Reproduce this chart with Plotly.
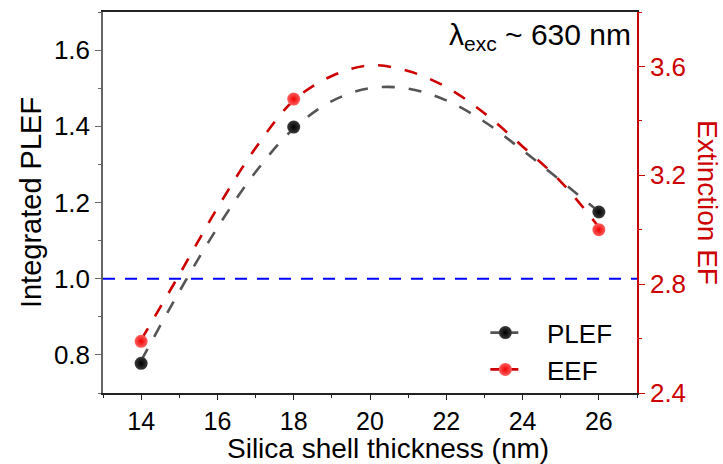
import plotly.graph_objects as go

# Measured enhancement factors vs. silica shell thickness
thickness = [14, 18, 26]
plef = [0.778, 1.398, 1.175]   # integrated PL enhancement factor (left axis)
eef = [2.59, 3.48, 3.00]       # extinction enhancement factor (right axis)

# Smoothed guide curves through the data
fit_x = [14, 15, 16, 17, 18, 19, 20, 21, 22, 23, 24, 25, 26]
plef_fit = [0.785, 0.966, 1.134, 1.280, 1.394, 1.466, 1.500, 1.499, 1.468, 1.412, 1.337, 1.257, 1.176]
eef_fit = [2.595, 2.835, 3.080, 3.300, 3.475, 3.565, 3.604, 3.583, 3.524, 3.428, 3.306, 3.177, 3.010]

reference_level = 1.0

FONT = "Liberation Sans, Arial, sans-serif"
RED = "#cc0000"
GRAY = "#555555"

fig = go.Figure()

# guide curves
fig.add_trace(go.Scatter(x=fit_x, y=plef_fit, mode="lines", showlegend=False,
                         line=dict(color=GRAY, width=2.6, dash="13px,14px", shape="spline", smoothing=1)))
fig.add_trace(go.Scatter(x=fit_x, y=eef_fit, mode="lines", showlegend=False, yaxis="y2",
                         line=dict(color=RED, width=2.6, dash="13px,14px", shape="spline", smoothing=1)))

black_ball = dict(size=13, color="#3a3a3a", gradient=dict(type="radial", color="#000000"),
                  line=dict(width=0))
red_ball = dict(size=13, color="#ff6060", gradient=dict(type="radial", color="#f00000"),
                line=dict(width=0))

# data points
fig.add_trace(go.Scatter(x=thickness, y=plef, mode="markers", marker=black_ball, showlegend=False))
fig.add_trace(go.Scatter(x=thickness, y=eef, mode="markers", marker=red_ball, showlegend=False,
                         yaxis="y2"))

# legend entries
fig.add_trace(go.Scatter(x=[None], y=[None], mode="lines+markers", name="\u00a0\u00a0\u00a0PLEF",
                         line=dict(color=GRAY, width=2.6, dash="10px,8px"), marker=black_ball))
fig.add_trace(go.Scatter(x=[None], y=[None], mode="lines+markers", name="\u00a0\u00a0\u00a0EEF", yaxis="y2",
                         line=dict(color=RED, width=2.6, dash="10px,8px"), marker=red_ball))

# unity reference line
fig.add_hline(y=reference_level, line=dict(color="#0000ff", width=2, dash="12px,10px"))

fig.add_annotation(text="λ<sub>exc</sub> ~ 630 nm", xref="paper", yref="paper",
                   x=0.992, y=0.935, xanchor="right", yanchor="middle", showarrow=False,
                   font=dict(family=FONT, size=30, color="black"))

# axis titles for x and the right axis
fig.add_annotation(text="Silica shell thickness (nm)", xref="paper", yref="paper",
                   x=0.533, y=-0.145, xanchor="center", yanchor="middle", showarrow=False,
                   borderpad=0, font=dict(family=FONT, size=28, color="black"))
fig.add_annotation(text="Extinction EF", xref="paper", yref="paper", textangle=90,
                   x=1.132, y=0.5, xanchor="center", yanchor="middle", showarrow=False,
                   font=dict(family=FONT, size=28, color=RED))

fig.update_layout(
    width=723, height=464,
    margin=dict(l=103, r=86, t=10, b=71),
    paper_bgcolor="white", plot_bgcolor="white",
    font=dict(family=FONT, color="black"),
    xaxis=dict(
        range=[13, 27], tick0=14, dtick=2, showgrid=False, zeroline=False,
        showline=True, linecolor="#222222", linewidth=1.5, mirror=True,
        ticks="outside", ticklen=5, tickwidth=1.2, tickcolor="#222222",
        minor=dict(dtick=1, tick0=13, ticks="outside", ticklen=3, tickwidth=1, tickcolor="#222222"),
        tickfont=dict(size=25),
    ),
    yaxis=dict(
        range=[0.7, 1.7], tick0=0.8, dtick=0.2, tickformat=".1f", showgrid=False, zeroline=False,
        showline=True, linecolor="#666666", linewidth=1.5,
        ticks="outside", ticklen=6, tickwidth=1.2, tickcolor="#666666",
        minor=dict(dtick=0.1, ticks="outside", ticklen=3, tickwidth=1, tickcolor="#666666"),
        tickfont=dict(size=26),
        title=dict(text="Integrated PLEF", font=dict(size=29), standoff=4),
    ),
    yaxis2=dict(
        range=[2.4, 3.8], tick0=2.4, dtick=0.4, tickformat=".1f", overlaying="y", side="right",
        showgrid=False, zeroline=False,
        showline=True, linecolor=RED, linewidth=1.5,
        ticks="outside", ticklen=6, tickwidth=1.2, tickcolor=RED,
        minor=dict(dtick=0.2, ticks="outside", ticklen=3, tickwidth=1, tickcolor=RED),
        tickfont=dict(size=26, color=RED),
    ),
    legend=dict(x=0.716, y=0.22, xanchor="left", yanchor="top", bgcolor="rgba(0,0,0,0)",
                font=dict(size=26), tracegroupgap=0),
)

fig.write_html("out.html")
